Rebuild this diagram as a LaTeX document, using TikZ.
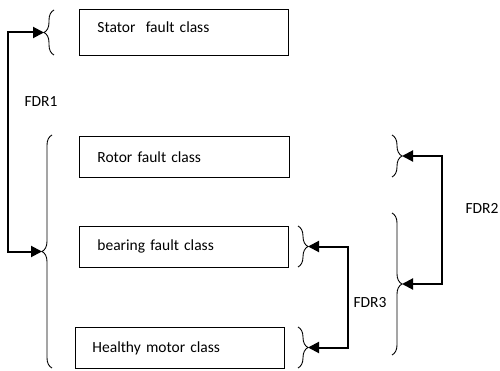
\documentclass[tikz,border=0pt]{standalone}
\usepackage{fontspec}
\setmainfont{Carlito}
\usetikzlibrary{decorations.pathreplacing,arrows.meta}
\begin{document}
\begin{tikzpicture}[x=1pt,y=-1pt,
  classbox/.style={draw=black,line width=0.9pt,anchor=north west,inner xsep=18pt,
    minimum height=41pt,align=left,font=\fontsize{15.5}{18}\selectfont},
  lbrace/.style={draw=black,line width=0.9pt,decorate,decoration={brace,amplitude=10pt}},
  conn/.style={draw=black,line width=2pt,{Triangle[length=11pt,width=11pt]}-{Triangle[length=11pt,width=11pt]}},
  lab/.style={font=\fontsize{15.5}{18}\selectfont}]
\useasboundingbox (0,0) rectangle (500,371);
% boxes
\node[classbox,text width=173pt,minimum height=46pt,text depth=11pt] (stator) at (79,9) {Stator\ \ fault class};
\node[classbox,text width=174pt] (rotor) at (79,136) {Rotor fault class};
\node[classbox,text width=173pt] (bearing) at (79,226) {bearing fault class};
\node[classbox,text width=175pt,inner xsep=17pt] (healthy) at (75,327) {Healthy motor class};
% braces (left-pointing)
\draw[lbrace] (54,55) -- (54,10);
\draw[lbrace] (52,368) -- (52,135);
% braces (right-pointing)
\draw[lbrace] (392,135) -- (392,177);
\draw[lbrace] (392,213) -- (392,355);
\draw[lbrace] (298,226) -- (298,267);
\draw[lbrace] (298,327) -- (298,368);
% brace tips
\coordinate (statTip) at (44,32.5);
\coordinate (bigTip) at (42,251.5);
\coordinate (rotTip) at (402,156);
\coordinate (fdr2Tip) at (402,284);
\coordinate (bearTip) at (308,246.5);
\coordinate (healTip) at (308,347.5);
% corners
\coordinate (k1a) at (8,251.5);
\coordinate (k1b) at (8,32.5);
\coordinate (k2a) at (442,156);
\coordinate (k2b) at (442,284);
\coordinate (k3a) at (348,246.5);
\coordinate (k3b) at (348,347.5);
% connectors
\draw[conn] (bigTip) -- (k1a) -- (k1b) -- (statTip);
\draw[conn] (rotTip) -- (k2a) -- (k2b) -- (fdr2Tip);
\draw[conn] (bearTip) -- (k3a) -- (k3b) -- (healTip);
% labels
\node[lab] (fdr1) at (41,102) {FDR1};
\node[lab] (fdr2) at (482,208) {FDR2};
\node[lab] (fdr3) at (370,303) {FDR3};
\end{tikzpicture}
\end{document}
